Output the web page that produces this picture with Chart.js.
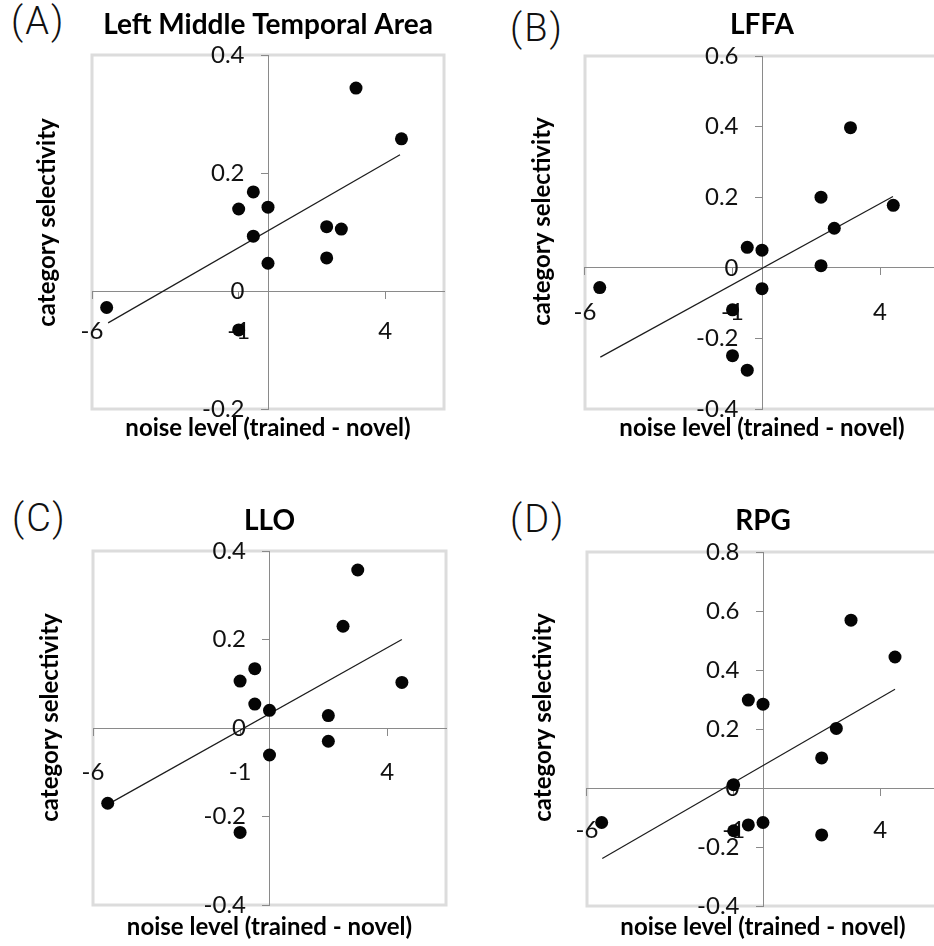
<!DOCTYPE html>
<html>
<head>
<meta charset="utf-8">
<script src="https://cdn.jsdelivr.net/npm/chart.js@4.4.1/dist/chart.umd.min.js"></script>
<style>
  html, body { margin: 0; padding: 0; background: #fff; overflow: hidden; }
  body { position: relative; width: 934px; height: 946px; }
  canvas { position: absolute; }
  .tag {
    position: absolute;
    font-family: Roboto, 'Liberation Sans', sans-serif;
    font-weight: 300;
    font-size: 38px;
    line-height: 38px;
    letter-spacing: 2px;
    color: #111;
  }
</style>
</head>
<body>
<div class="tag" style="left:11px;top:2px">(A)</div>
<div class="tag" style="left:510px;top:9px">(B)</div>
<div class="tag" style="left:12px;top:499px">(C)</div>
<div class="tag" style="left:510px;top:500px">(D)</div>
<canvas id="chartA"></canvas>
<canvas id="chartB"></canvas>
<canvas id="chartC"></canvas>
<canvas id="chartD"></canvas>
<script>
  // shared x ticks (noise level)
  const xTicks = [-6, -1, 4];
  const xTickLabels = ['-6', '-1', '4'];

  // (A) Left Middle Temporal Area
  const noiseA = [3.0, 4.55, -0.5, -1.0, 0, -0.5, 0, 2.0, 2.5, 2.0, -5.5, -1.0];
  const selA = [0.344, 0.258, 0.168, 0.139, 0.142, 0.093, 0.047, 0.109, 0.105, 0.056, -0.028, -0.066];
  const fitXA = [-5.45, 4.5];
  const fitYA = [-0.054, 0.231];
  const yTicksA = [-0.2, 0, 0.2, 0.4];
  const yLabelsA = ['-0.2', '0', '0.2', '0.4'];

  // (B) LFFA
  const noiseB = [3.0, 2.0, 4.45, 2.45, -0.5, 0, 2.0, -5.5, 0, -1.0, -1.0, -0.5];
  const selB = [0.397, 0.200, 0.177, 0.112, 0.058, 0.050, 0.006, -0.056, -0.059, -0.119, -0.249, -0.290];
  const fitXB = [-5.48, 4.44];
  const fitYB = [-0.253, 0.202];
  const yTicksB = [-0.4, -0.2, 0, 0.2, 0.4, 0.6];
  const yLabelsB = ['-0.4', '-0.2', '0', '0.2', '0.4', '0.6'];

  // (C) LLO
  const noiseC = [3.0, 2.5, -0.5, -1.0, 4.5, -0.5, 0, 2.0, 2.0, 0, -5.5, -1.0];
  const selC = [0.357, 0.230, 0.134, 0.106, 0.103, 0.054, 0.040, 0.028, -0.030, -0.061, -0.170, -0.236];
  const fitXC = [-5.48, 4.5];
  const fitYC = [-0.172, 0.200];
  const yTicksC = [-0.4, -0.2, 0, 0.2, 0.4];
  const yLabelsC = ['-0.4', '-0.2', '0', '0.2', '0.4'];

  // (D) RPG
  const noiseD = [3.0, 4.5, -0.5, 0, 2.5, 2.0, -1.0, -5.5, -0.5, 0, -1.0, 2.0];
  const selD = [0.569, 0.444, 0.298, 0.284, 0.202, 0.102, 0.011, -0.117, -0.125, -0.117, -0.145, -0.159];
  const fitXD = [-5.48, 4.5];
  const fitYD = [-0.239, 0.335];
  const yTicksD = [-0.4, -0.2, 0, 0.2, 0.4, 0.6, 0.8];
  const yLabelsD = ['-0.4', '-0.2', '0', '0.2', '0.4', '0.6', '0.8'];

  const axisGray = '#8a8a8a';
  const tickFont = { family: 'Lato', size: 24 };
  const axisTitleFont = { family: 'Lato', weight: 'bold', size: 24, lineHeight: 1.2 };

  // light grey frame round the plot area
  const plotFrame = {
    id: 'plotFrame',
    beforeDraw(chart) {
      const a = chart.chartArea;
      const ctx = chart.ctx;
      ctx.save();
      ctx.strokeStyle = '#dcdcdc';
      ctx.lineWidth = 3;
      ctx.strokeRect(a.left, a.top, a.right - a.left, a.bottom - a.top);
      ctx.restore();
    }
  };

  function makePanel(p) {
    const cv = document.getElementById(p.canvas);
    cv.width = p.w;
    cv.height = p.h;
    cv.style.left = p.left + 'px';
    cv.style.top = p.top + 'px';

    const points = p.xs.map((x, i) => ({ x: x, y: p.ys[i] }));
    const fit = p.fitX.map((x, i) => ({ x: x, y: p.fitY[i] }));

    return new Chart(cv, {
      type: 'scatter',
      data: {
        datasets: [{
          data: points,
          pointRadius: 6.5,
          pointBackgroundColor: '#050505',
          pointBorderWidth: 0,
          xAxisID: 'x',
          yAxisID: 'y',
          order: 0
        }, {
          type: 'line',
          data: fit,
          borderColor: '#1c1c1c',
          borderWidth: 1.2,
          pointRadius: 0,
          fill: false,
          xAxisID: 'x',
          yAxisID: 'y',
          order: 1
        }]
      },
      options: {
        responsive: false,
        animation: false,
        layout: { padding: { left: 0, right: p.padRight, top: 0, bottom: 0 } },
        plugins: {
          legend: { display: false },
          tooltip: { enabled: false },
          title: {
            display: true,
            text: p.title,
            fullSize: false,
            color: '#000',
            font: { family: 'Lato', weight: 'bold', size: 28, lineHeight: 1.2 },
            padding: { top: p.tpt, bottom: p.tpb }
          }
        },
        scales: {
          x: {
            type: 'linear',
            position: { y: 0 },
            min: -6,
            max: 6,
            afterBuildTicks: s => { s.ticks = xTicks.map(v => ({ value: v })); },
            ticks: {
              callback: (v, i) => xTickLabels[i],
              autoSkip: false,
              maxRotation: 0,
              padding: p.xPad,
              font: tickFont,
              color: '#111'
            },
            grid: { display: true, drawOnChartArea: false, drawTicks: true, tickLength: 7, color: axisGray },
            border: { display: true, color: axisGray, width: 1 }
          },
          y: {
            type: 'linear',
            position: 'center',
            min: p.yTicks[0],
            max: p.yTicks[p.yTicks.length - 1],
            afterBuildTicks: s => { s.ticks = p.yTicks.map(v => ({ value: v })); },
            ticks: {
              callback: (v, i) => p.yLabels[i],
              autoSkip: false,
              padding: 16.5,
              font: tickFont,
              color: '#111'
            },
            grid: { display: true, drawOnChartArea: false, drawTicks: true, tickLength: 7, color: axisGray },
            border: { display: true, color: axisGray, width: 1 }
          },
          yt: {
            type: 'linear',
            position: 'left',
            fullSize: true,
            display: true,
            ticks: { display: false },
            grid: { display: false, drawTicks: false },
            border: { display: false },
            title: {
              display: true,
              text: 'category selectivity',
              color: '#000',
              font: axisTitleFont,
              padding: { top: p.ypt, bottom: p.ypb }
            }
          },
          xt: {
            type: 'linear',
            position: 'bottom',
            display: true,
            ticks: { display: false },
            grid: { display: false, drawTicks: false },
            border: { display: false },
            title: {
              display: true,
              text: 'noise level (trained - novel)',
              color: '#000',
              font: { family: 'Lato', weight: 'bold', size: 24, lineHeight: 1 },
              padding: { top: p.xpt, bottom: p.xpb }
            }
          }
        }
      },
      plugins: [plotFrame]
    });
  }

  makePanel({
    canvas: 'chartA', title: 'Left Middle Temporal Area',
    xs: noiseA, ys: selA, fitX: fitXA, fitY: fitYA, yTicks: yTicksA, yLabels: yLabelsA,
    left: 0, top: 0, w: 467, h: 445, padRight: 23,
    tpt: 7.7, tpb: 13.7, ypt: 33, ypb: 30.2, xpt: 7.5, xpb: 4.5, xPad: 18.6
  });
  makePanel({
    canvas: 'chartB', title: 'LFFA',
    xs: noiseB, ys: selB, fitX: fitXB, fitY: fitYB, yTicks: yTicksB, yLabels: yLabelsB,
    left: 467, top: 0, w: 480, h: 443, padRight: 8,
    tpt: 7.7, tpb: 14.7, ypt: 61.3, ypb: 27.9, xpt: 7.5, xpb: 2.5, xPad: 23.2
  });
  makePanel({
    canvas: 'chartC', title: 'LLO',
    xs: noiseC, ys: selC, fitX: fitXC, fitY: fitYC, yTicks: yTicksC, yLabels: yLabelsC,
    left: 0, top: 495, w: 467, h: 445, padRight: 21,
    tpt: 9.2, tpb: 13.2, ypt: 35.6, ypb: 28.6, xpt: 10.5, xpb: 0.5, xPad: 23.1
  });
  makePanel({
    canvas: 'chartD', title: 'RPG',
    xs: noiseD, ys: selD, fitX: fitXD, fitY: fitYD, yTicks: yTicksD, yLabels: yLabelsD,
    left: 467, top: 495, w: 480, h: 445, padRight: 8,
    tpt: 9.2, tpb: 14.2, ypt: 62.3, ypb: 28.9, xpt: 9.5, xpb: 0.5, xPad: 21.1
  });
</script>
</body>
</html>
